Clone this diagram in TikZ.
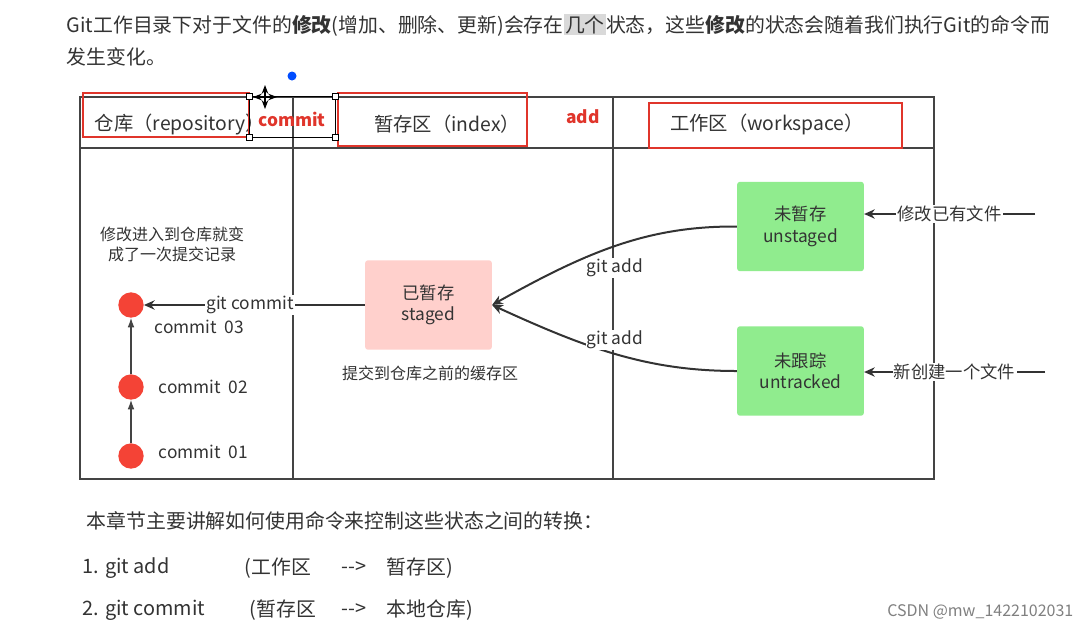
\documentclass[tikz,border=0pt]{standalone}
\usepackage{fontspec}
\setmainfont{Noto Sans CJK SC}
\usetikzlibrary{arrows.meta}
\definecolor{tx}{HTML}{333333}
\definecolor{gl}{HTML}{444444}
\definecolor{rd}{HTML}{E0352B}
\definecolor{rc}{HTML}{F44336}
\definecolor{pk}{HTML}{FFD0CC}
\definecolor{gr}{HTML}{90EC8E}
\tikzset{
 grid/.style={draw=gl,line width=1.8pt},
 hdr/.style={font=\fontsize{14.5}{16}\selectfont,text=tx},
 red/.style={draw=rd,line width=1.2pt},
 rlab/.style={font=\fontsize{13}{15}\selectfont\bfseries,text=rd},
 dot/.style={circle,fill=rc,minimum size=19pt,inner sep=0pt},
 clab/.style={font=\fontsize{13}{14}\selectfont,text=tx,anchor=west},
 sbox/.style={rounded corners=2pt,minimum width=95pt,minimum height=67pt,align=center,font=\fontsize{13}{16}\selectfont,text=tx},
 arr/.style={draw=tx,line width=1.5pt,-{Stealth[length=8pt,width=7pt]}},
 lab/.style={fill=white,inner sep=1pt,font=\fontsize{13}{14}\selectfont,text=tx},
 body/.style={font=\fontsize{14.9}{16}\selectfont,text=tx,anchor=west},
}
\begin{document}
\begin{tikzpicture}[x=0.75pt,y=-0.75pt]
\useasboundingbox[fill=white] (0,0) rectangle (1091,633);
% top text
\node[body] (t1) at (62,25) {Git工作目录下对于文件的\textbf{修改}(增加、删除、更新)会存在{\setlength{\fboxsep}{1pt}\colorbox{gray!30}{几个}}状态，这些\textbf{修改}的状态会随着我们执行Git的命令而};
\node[body] (t2) at (62,57) {发生变化。};
% table
\draw[grid] (80,97) rectangle (934,479);
\draw[grid] (80,148) -- (934,148);
\draw[grid] (293,97) -- (293,479);
\draw[grid] (613,97) -- (613,479);
\node[hdr] (h1) at (180,124) {仓库（repository）};
\node[hdr] (h2) at (447,124) {暂存区（index）};
\node[hdr] (h3) at (767,124) {工作区（workspace）};
\draw[red] (83,93) rectangle (249,137);
\draw[red] (338,93) rectangle (527,146);
\draw[red] (649,103) rectangle (902,148);
\node[rlab] (rc1) at (292,119) {commit};
\node[rlab] (ra) at (583,117) {add};
\draw[black,line width=0.5pt] (249,96) rectangle (335,137);
\foreach \p in {(249,96),(335,96),(249,137),(335,137)} \draw[fill=white,line width=0.4pt] \p ++(-3,-3) rectangle ++(6,6);
\fill[blue!70!cyan] (292,76) circle (4.5);
\draw[line width=0.8pt,<->,>=Stealth] (253,97) -- (277,97);
\draw[line width=0.8pt,<->,>=Stealth] (265,85) -- (265,109);
% commits
\node[dot] (c3) at (131,305) {};
\node[dot] (c2) at (131,387) {};
\node[dot] (c1) at (131,456) {};
\draw[draw=gl,line width=0.8pt,-{Latex[length=7pt,width=5pt]}] (c1) -- (c2);
\draw[draw=gl,line width=0.8pt,-{Latex[length=7pt,width=5pt]}] (c2) -- (c3);
\node[clab] (l3) at (150,327) {commit\ \ 03};
\node[clab] (l2) at (154,387) {commit\ \ 02};
\node[clab] (l1) at (154,452) {commit\ \ 01};
\node[align=center,font=\fontsize{12}{15}\selectfont,text=tx] (note) at (172,244) {修改进入到仓库就变\\成了一次提交记录};
% staged
\node[sbox,fill=pk] (st) at (428.5,305) {已暂存\\staged};
\node[font=\fontsize{12}{13}\selectfont,text=tx] (stn) at (430,373) {提交到仓库之前的缓存区};
\draw[arr] (st) -- (c3) node[lab,pos=0.52] {git commit};
% workspace
\node[sbox,fill=gr] (us) at (800.5,226.5) {未暂存\\unstaged};
\node[sbox,fill=gr] (ut) at (800.5,371) {未跟踪\\untracked};
\draw[arr] (us.west) .. controls (650,226) and (590,250) .. (st.east);
\draw[arr] (ut.west) .. controls (650,371) and (590,350) .. (st.east);
\node[lab] (ga1) at (615,268) {git add};
\node[lab] (ga2) at (615,340) {git add};
\coordinate (e1) at (1035,214);
\coordinate (e2) at (1045,372);
\draw[arr] (e1) -- (us.east|-e1) node[lab,pos=0.5] {修改已有文件};
\draw[arr] (e2) -- (ut.east|-e2) node[lab,pos=0.5] {新创建一个文件};
% bottom text
\node[body] (b0) at (82,521) {本章节主要讲解如何使用命令来控制这些状态之间的转换：};
\node[body] (b1a) at (78,568) {1. git add};
\node[body] (b1b) at (240,568) {(工作区};
\node[body] (b1c) at (337,568) {-{}-{}>};
\node[body] (b1d) at (382,568) {暂存区)};
\node[body] (b2a) at (78,610) {2. git commit};
\node[body] (b2b) at (245,610) {(暂存区};
\node[body] (b2c) at (337,610) {-{}-{}>};
\node[body] (b2d) at (382,610) {本地仓库)};
\node[font=\fontsize{12}{13}\selectfont,text=gray,anchor=east] (wm) at (1078,612) {CSDN @mw\_1422102031};
\end{tikzpicture}
\end{document}
